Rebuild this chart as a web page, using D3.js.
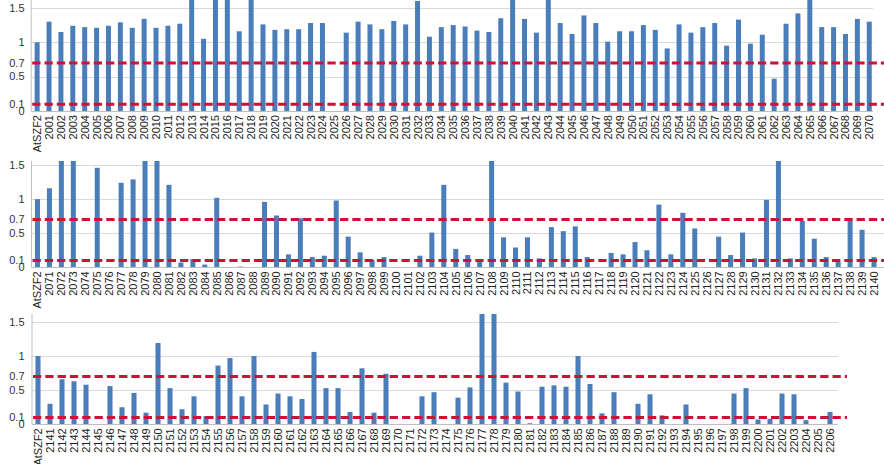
<!DOCTYPE html>
<html><head><meta charset="utf-8">
<script src="https://cdn.jsdelivr.net/npm/d3@7/dist/d3.min.js"></script>
<style>body{margin:0;background:#fff;}svg{display:block;}</style>
</head><body>
<svg id="c" width="884" height="464"></svg>
<script>
// ---- data ----
const yTicks = [0, 0.1, 0.5, 0.7, 1, 1.5];
const gridVals = [0.5, 1, 1.5];
const thresholds = [0.7, 0.1];

const cats1 = ["AtSZF2"].concat(d3.range(2001, 2071).map(String));
const vals1 = [1.00,1.30,1.15,1.24,1.22,1.21,1.24,1.29,1.21,1.34,1.21,1.24,1.27,1.70,1.05,1.70,1.70,1.16,1.70,1.26,
  1.18,1.19,1.19,1.28,1.28,0,1.14,1.30,1.26,1.19,1.31,1.26,1.60,1.08,1.22,1.25,1.23,1.17,1.15,1.35,
  1.70,1.34,1.14,1.70,1.28,1.12,1.39,1.28,1.01,1.16,1.16,1.25,1.18,0.91,1.26,1.14,1.22,1.28,0.95,1.33,
  0.98,1.11,0.47,1.27,1.42,1.70,1.22,1.22,1.12,1.34,1.30];

const cats2 = ["AtSZF2"].concat(d3.range(2071, 2141).map(String));
const vals2 = [1.00,1.16,1.70,1.70,0,1.46,0,1.24,1.29,1.70,1.70,1.21,0.07,0.12,0.04,1.02,0,0.01,0,0.96,
  0.76,0.19,0.72,0.15,0.17,0.98,0.45,0.22,0.11,0.15,0,0,0.17,0.51,1.21,0.27,0.18,0.11,1.70,0.44,
  0.29,0.44,0.13,0.59,0.53,0.60,0.15,0,0.21,0.19,0.37,0.25,0.92,0.19,0.80,0.57,0,0.45,0.18,0.51,
  0.13,0.99,1.70,0.13,0.68,0.42,0.15,0.08,0.68,0.55,0.15];

const cats3 = ["AtSZF2"].concat(d3.range(2141, 2207).map(String));
const vals3 = [1.00,0.30,0.66,0.63,0.58,0,0.56,0.25,0.46,0.17,1.19,0.53,0.22,0.41,0.12,0.86,0.97,0.41,1.00,0.29,
  0.45,0.41,0.37,1.06,0.53,0.53,0.18,0.82,0.17,0.74,0,0,0.41,0.47,0,0.39,0.54,1.70,1.70,0.61,
  0.48,0.015,0.55,0.57,0.55,1.00,0.59,0.16,0.47,0,0.30,0.44,0.13,0,0.29,0,0,0,0.45,0.53,
  0.07,0.08,0.45,0.44,0.06,0,0.18];

// ---- layout ----
const panels = [
  {cats: cats1, vals: vals1, x0: 31.2, x1: 875.2, yTop: 0, yBot: 111, max: 1.615, gridEnd: 873, dashEnd: 884},
  {cats: cats2, vals: vals2, x0: 31.5, x1: 880, yTop: 161, yBot: 267.3, max: 1.56, gridEnd: 884, dashEnd: 884},
  {cats: cats3, vals: vals3, x0: 32, x1: 836, yTop: 314, yBot: 424.3, max: 1.615, gridEnd: 838, dashEnd: 847}
];

const svg = d3.select("#c");
const font = "'Liberation Sans', Arial, sans-serif";

panels.forEach(p => {
  const g = svg.append("g");
  const x = d3.scaleBand().domain(p.cats).range([p.x0, p.x1]).paddingInner(0.58).paddingOuter(0.29);
  const y = d3.scaleLinear().domain([0, p.max]).range([p.yBot, p.yTop]).clamp(true);

  // gridlines
  g.selectAll("line.grid").data(gridVals).join("line")
    .attr("x1", p.x0).attr("x2", p.gridEnd)
    .attr("y1", d => Math.round(y(d)) + 0.5).attr("y2", d => Math.round(y(d)) + 0.5)
    .attr("stroke", "#d9d9d9").attr("stroke-width", 1);

  // bars
  g.selectAll("rect.bar").data(p.cats.map((c, i) => ({c, v: p.vals[i]}))).join("rect")
    .attr("x", d => x(d.c)).attr("width", x.bandwidth())
    .attr("y", d => y(d.v)).attr("height", d => y(0) - y(d.v))
    .attr("fill", "#4a7ebb");

  // axis lines
  g.append("line").attr("x1", p.x0).attr("x2", p.x0).attr("y1", p.yTop).attr("y2", p.yBot)
    .attr("stroke", "#bfbfbf");
  g.append("line").attr("x1", p.x0).attr("x2", p.gridEnd).attr("y1", Math.round(y(0)) + 0.5).attr("y2", Math.round(y(0)) + 0.5)
    .attr("stroke", "#bfbfbf");

  // threshold lines
  g.selectAll("line.th").data(thresholds).join("line")
    .attr("x1", p.x0 + 1).attr("x2", p.dashEnd)
    .attr("y1", d => y(d)).attr("y2", d => y(d))
    .attr("stroke", "#cc1236").attr("stroke-width", 3).attr("stroke-dasharray", "8.3,4");

  // y axis labels
  g.selectAll("text.yt").data(yTicks).join("text")
    .attr("x", 24.5).attr("y", d => y(d)).attr("dy", "0.35em")
    .attr("text-anchor", "end").attr("font-family", font).attr("font-size", 11).attr("fill", "#333")
    .text(d => d);

  // x axis labels
  g.selectAll("text.xt").data(p.cats).join("text")
    .attr("transform", d => `translate(${x(d) + x.bandwidth() / 2 + 4},${p.yBot + 4}) rotate(-90)`)
    .attr("text-anchor", "end").attr("font-family", font).attr("font-size", 11).attr("fill", "#222")
    .text(d => d);
});
</script>
</body></html>
